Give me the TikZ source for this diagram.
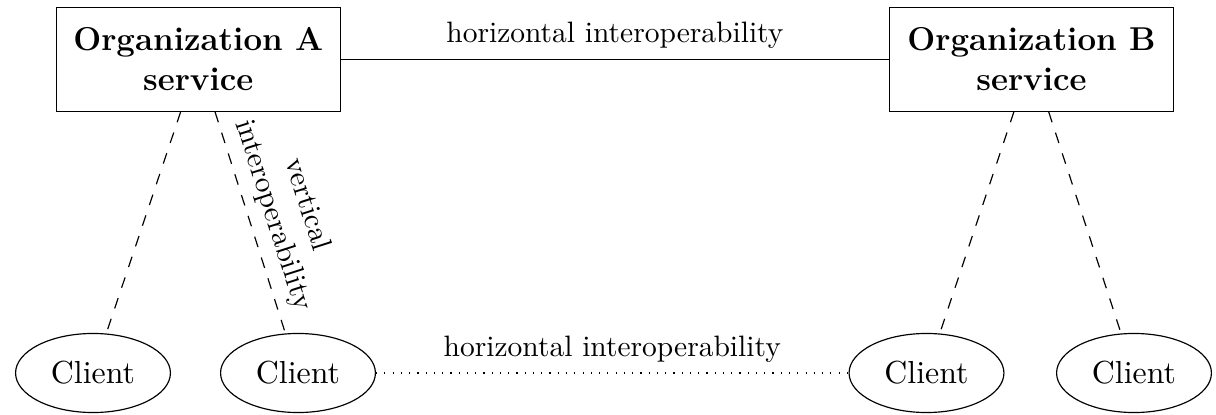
\documentclass[tikz,border=0pt]{standalone}
\usetikzlibrary{shapes.geometric}
\begin{document}
\begin{tikzpicture}[x=0.339pt,y=-0.339pt,
		orgbox/.style={draw, rectangle, minimum width=96.3pt, minimum height=35.3pt, inner sep=0, align=center, font=\fontsize{11.2pt}{13.5pt}\selectfont\bfseries},
		client/.style={draw, ellipse, minimum width=52.5pt, minimum height=26.8pt, inner sep=0, font=\fontsize{10.8pt}{13pt}\selectfont},
		vlink/.style={dash pattern=on 3.7pt off 3.7pt},
		hlink/.style={dash pattern=on 0.4pt off 2.4pt}]
				\useasboundingbox (0,0) rectangle (1216,415);
				% services
				\node[orgbox] (orgA) at (198.3,59.2) {Organization A\\service};
				\node[orgbox] (orgB) at (1031.5,59.2) {Organization B\\service};
				% clients
				\node[client] (clientA1) at (93,373) {Client};
				\node[client] (clientA2) at (298,373) {Client};
				\node[client] (clientB1) at (926.5,373) {Client};
				\node[client] (clientB2) at (1134,373) {Client};
				% interoperability
				\draw (orgA) -- node[above] {horizontal interoperability} (orgB);
				\draw[hlink] (clientA2) -- node[above] {horizontal interoperability} (clientB1);
				\draw[vlink] (orgA) -- (clientA1);
				\draw[vlink] (orgA) -- node[sloped, above, align=center] {vertical\\interoperability} (clientA2);
				\draw[vlink] (orgB) -- (clientB1);
				\draw[vlink] (orgB) -- (clientB2);
			\end{tikzpicture}
\end{document}
